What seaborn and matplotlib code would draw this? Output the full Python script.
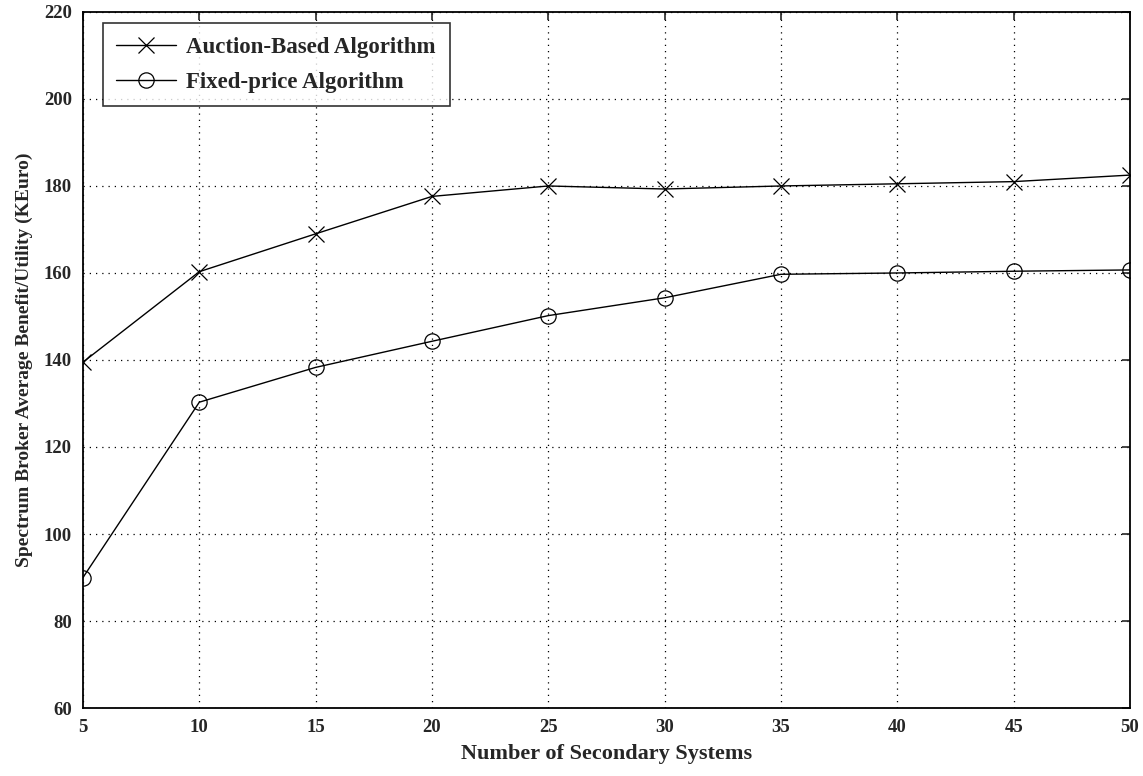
import matplotlib
matplotlib.use("Agg")
import matplotlib.pyplot as plt
import seaborn as sns

x_vals = [5, 10, 15, 20, 25, 30, 35, 40, 45, 50]
auction = [139.5, 160.3, 169.0, 177.6, 180.0, 179.3, 180.0, 180.5, 181.0, 182.5]
fixed = [90.0, 130.3, 138.3, 144.3, 150.2, 154.3, 159.7, 160.0, 160.4, 160.7]
series_names = ["Auction-Based Algorithm", "Fixed-price Algorithm"]
x_ticks = [5, 10, 15, 20, 25, 30, 35, 40, 45, 50]
y_ticks = [60, 80, 100, 120, 140, 160, 180, 200, 220]

sns.set_theme(style="white")
plt.rcParams['font.family'] = ['Liberation Serif', 'DejaVu Serif']
plt.rcParams['font.weight'] = 'bold'

fig = plt.figure(figsize=(11.43, 7.76), dpi=100)
ax = fig.add_axes([0.0726, 0.0876, 0.916, 0.897])

sns.lineplot(x=x_vals, y=auction, ax=ax, color="black", linewidth=1.0,
             marker="x", markersize=11, markeredgewidth=0.9,
             markeredgecolor="black", label=series_names[0])
sns.lineplot(x=x_vals, y=fixed, ax=ax, color="black", linewidth=1.0,
             marker="o", markersize=12, markeredgewidth=0.9,
             markerfacecolor="none", markeredgecolor="black", label=series_names[1])

ax.set_xlim(5, 50)
ax.set_ylim(60, 220)
ax.set_xticks(x_ticks)
ax.set_yticks(y_ticks)
ax.tick_params(direction="in", length=6, width=1.2, labelsize=13.5,
               top=True, right=True, pad=8)
for lab in ax.get_xticklabels() + ax.get_yticklabels():
    lab.set_fontweight("bold")
ax.grid(True, linestyle=(0, (1, 4)), color="black", linewidth=0.9)
for s in ax.spines.values():
    s.set_color("black")
    s.set_linewidth(1.3)

ax.set_xlabel("Number of Secondary Systems", fontsize=16, fontweight="bold", labelpad=6)
ax.set_ylabel("Spectrum Broker Average Benefit/Utility (KEuro)", fontsize=14,
              fontweight="bold", labelpad=8)

h, l = ax.get_legend_handles_labels()
for hh in h:
    hh.set_markerfacecolor("none")
    hh.set_markersize(11)
leg = ax.legend(h, l, loc="upper left", bbox_to_anchor=(0.0188, 0.984),
                borderaxespad=0.0,
                fontsize=16.5, frameon=True, fancybox=False, handlelength=2.6,
                borderpad=0.6, labelspacing=0.6, handletextpad=0.45)
leg.get_frame().set_edgecolor("black")
leg.get_frame().set_linewidth(1.2)
for t in leg.get_texts():
    t.set_fontweight("bold")

fig.savefig("out.png", dpi=100)
